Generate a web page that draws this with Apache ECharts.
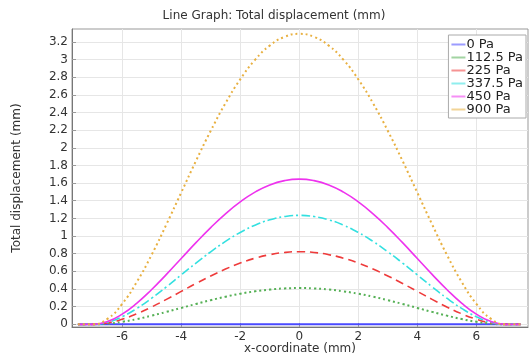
<!DOCTYPE html>
<html><head><meta charset="utf-8">
<script src="https://cdn.jsdelivr.net/npm/echarts@6/dist/echarts.min.js"></script>
<style>html,body{margin:0;padding:0;background:#fff}#c{width:529px;height:355px}</style>
</head><body><div id="c"></div>
<script>
const xCoords = [-7.5,-7,-6.5,-6,-5.5,-5,-4.5,-4,-3.5,-3,-2.5,-2,-1.5,-1,-0.5,0,0.5,1,1.5,2,2.5,3,3.5,4,4.5,5,5.5,6,6.5,7,7.5];
const seriesNames = ['0 Pa','112.5 Pa','225 Pa','337.5 Pa','450 Pa','900 Pa'];
const p0 = [0,0,0,0,0,0,0,0,0,0,0,0,0,0,0,0,0,0,0,0,0,0,0,0,0,0,0,0,0,0,0];
const p112 = [0,0,0.008,0.029,0.060,0.099,0.141,0.186,0.231,0.274,0.313,0.347,0.374,0.394,0.407,0.411,0.407,0.394,0.374,0.347,0.313,0.274,0.231,0.186,0.141,0.099,0.060,0.029,0.008,0,0];
const p225 = [0,0,0.016,0.058,0.120,0.197,0.283,0.373,0.463,0.548,0.626,0.694,0.749,0.789,0.814,0.823,0.814,0.789,0.749,0.694,0.626,0.548,0.463,0.373,0.283,0.197,0.120,0.058,0.016,0,0];
const p337 = [0,0,0.023,0.087,0.181,0.296,0.425,0.560,0.694,0.822,0.939,1.041,1.123,1.184,1.221,1.234,1.221,1.184,1.123,1.041,0.939,0.822,0.694,0.560,0.425,0.296,0.181,0.087,0.023,0,0];
const p450 = [0,0,0.031,0.116,0.241,0.395,0.566,0.746,0.925,1.096,1.252,1.387,1.497,1.579,1.628,1.645,1.628,1.579,1.497,1.387,1.252,1.096,0.925,0.746,0.566,0.395,0.241,0.116,0.031,0,0];
const p900 = [0,0,0.062,0.232,0.482,0.789,1.133,1.492,1.851,2.192,2.504,2.775,2.995,3.157,3.256,3.29,3.256,3.157,2.995,2.775,2.504,2.192,1.851,1.492,1.133,0.789,0.482,0.232,0.062,0,0];
const xTicks = [-6,-4,-2,0,2,4,6];
const yTicks = [0,0.2,0.4,0.6,0.8,1,1.2,1.4,1.6,1.8,2,2.2,2.4,2.6,2.8,3,3.2];

const values = [p0,p112,p225,p337,p450,p900];
const colors = ['#4a4aff','#55b055','#ee3b3b','#33e0e0','#ee33ee','#e8b040'];
const dashes = ['solid',[2,3],[8,5],[9,3,2,3],'solid',[2,3]];
const widths = [2,2,1.6,1.6,1.6,2];

const chart = echarts.init(document.getElementById('c'));
const font = 'DejaVu Sans';
chart.setOption({
  animation:false,
  title:{text:'Line Graph: Total displacement (mm)',left:269,top:5,textAlign:'center',
    textStyle:{fontFamily:font,fontSize:12,fontWeight:'normal',color:'#333'}},
  grid:{left:72,top:29,right:1,bottom:28,show:true,borderColor:'#999',borderWidth:1,outerBoundsMode:'none',containLabel:false},
  legend:{right:3,top:35,orient:'vertical',itemGap:0,itemWidth:14,itemHeight:2,icon:'rect',
    backgroundColor:'#fff',borderColor:'#aaa',borderWidth:1,padding:[3,3,2,3],
    textStyle:{fontFamily:font,fontSize:13,color:'#222',padding:[0,0,0,-4]},
    data:seriesNames.map((n,i)=>({name:n,itemStyle:{color:colors[i],opacity:0.55}}))},
  xAxis:{type:'value',min:-7.7,max:7.75,
    name:'x-coordinate (mm)',nameLocation:'middle',nameGap:16,nameMoveOverlap:false,
    nameTextStyle:{fontFamily:font,fontSize:12,color:'#333'},
    axisLine:{show:true,onZero:false,lineStyle:{color:'#777'}},
    axisTick:{show:true,inside:true,length:4,customValues:xTicks,lineStyle:{color:'#999'}},
    axisLabel:{customValues:xTicks,fontFamily:font,fontSize:12,color:'#333',margin:4},
    splitLine:{show:true,lineStyle:{color:'#e6e6e6'}}},
  yAxis:{type:'value',min:-0.03,max:3.345,
    name:'Total displacement (mm)',nameLocation:'middle',nameGap:49,nameMoveOverlap:false,
    nameTextStyle:{fontFamily:font,fontSize:12,color:'#333'},
    axisLine:{show:true,onZero:false,lineStyle:{color:'#777'}},
    axisTick:{show:true,inside:true,length:4,customValues:yTicks,lineStyle:{color:'#999'}},
    axisLabel:{customValues:yTicks,fontFamily:font,fontSize:12,color:'#333',margin:4},
    splitLine:{show:true,lineStyle:{color:'#e6e6e6'}}},
  series:values.map((v,i)=>({
    name:seriesNames[i],type:'line',showSymbol:false,smooth:true,
    data:xCoords.map((x,j)=>[x,v[j]]),
    lineStyle:{color:colors[i],width:widths[i],type:dashes[i]},
    itemStyle:{color:colors[i]},z:i===0?1:2
  }))
});
</script></body></html>
